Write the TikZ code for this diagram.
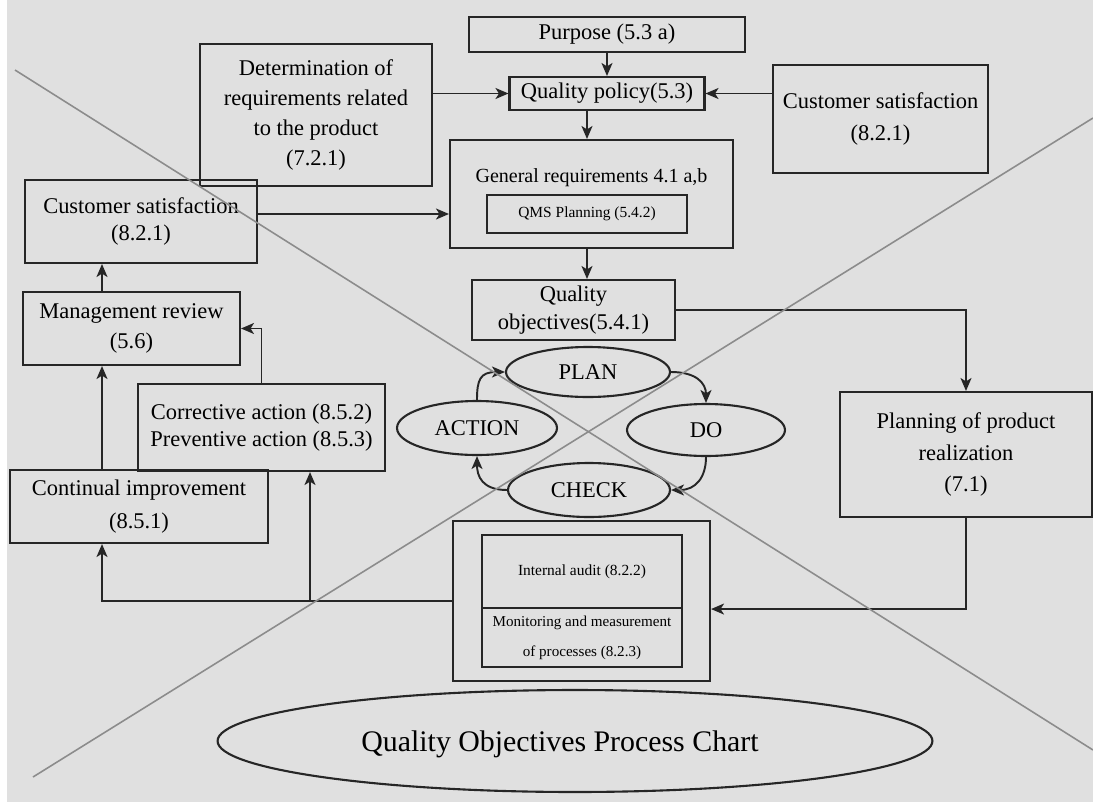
\documentclass[tikz,border=0pt]{standalone}
\usepackage{fontspec}
\setmainfont{Liberation Serif}
\usetikzlibrary{arrows.meta,shapes.geometric}

\begin{document}
\begin{tikzpicture}[x=0.02cm,y=-0.02cm,
  box/.style={draw=black!85,line width=1.2pt,inner sep=0pt,align=center,font=\fontsize{12.8}{17}\selectfont},
  oval/.style={draw=black!85,line width=1.2pt,ellipse,inner sep=0pt,font=\fontsize{12.8}{17}\selectfont},
  arr/.style={draw=black!85,line width=1.1pt,-{Stealth[length=2.6mm,width=2.2mm,inset=0.7mm]}},
  diag/.style={black!45,line width=0.9pt}]
  \useasboundingbox (0,0) rectangle (1093,802);
  \fill[black!12] (7,0) rectangle (1093,802);
  \node[box,minimum width=5.52cm,minimum height=0.7cm] (purpose) at (607,34.5) {Purpose (5.3 a)};
  \node[box,minimum width=3.9cm,minimum height=0.66cm] (policy) at (607,93.5) {Quality policy(5.3)};
  \node[box,minimum width=4.64cm,minimum height=2.84cm] (determ) at (316,115) {Determination of\\requirements related\\to the product\\(7.2.1)};
  \node[box,minimum width=4.3cm,minimum height=2.16cm,font=\fontsize{12.8}{18.5}\selectfont] (custR) at (880.5,119) {Customer satisfaction\\(8.2.1)};
  \node[box,minimum width=5.66cm,minimum height=2.16cm] (genreq) at (591.5,194) {};
  \node[font=\fontsize{11.4}{13}\selectfont] (genreqtxt) at (591.5,178) {General requirements 4.1 a,b};
  \node[box,minimum width=4cm,minimum height=0.76cm,font=\fontsize{8.8}{10}\selectfont] (qms) at (587,214) {QMS Planning (5.4.2)};
  \node[box,minimum width=4.64cm,minimum height=1.66cm,font=\fontsize{12.8}{15.3}\selectfont] (custL) at (141,221.5) {Customer satisfaction\\(8.2.1)};
  \node[box,minimum width=4.06cm,minimum height=1.2cm,font=\fontsize{12.8}{16.4}\selectfont] (objectives) at (573.5,310) {Quality\\objectives(5.4.1)};
  \node[box,minimum width=4.34cm,minimum height=1.46cm] (mgmt) at (131.5,328.5) {Management review\\(5.6)};
  \node[box,minimum width=4.94cm,minimum height=1.74cm,font=\fontsize{12.8}{15.3}\selectfont] (corrective) at (261.5,427.5) {Corrective action (8.5.2)\\Preventive action (8.5.3)};
  \node[box,minimum width=5.16cm,minimum height=1.46cm,font=\fontsize{12.8}{18.5}\selectfont] (continual) at (139,506.5) {Continual improvement\\(8.5.1)};
  \node[box,minimum width=5.04cm,minimum height=2.5cm,font=\fontsize{12.8}{18}\selectfont] (planning) at (966,454.5) {Planning of product\\realization\\(7.1)};
  \node[box,minimum width=5.14cm,minimum height=3.2cm] (monitor) at (581.5,601) {};
  \node[box,minimum width=4cm,minimum height=1.46cm,font=\fontsize{8.8}{10}\selectfont] (audit) at (582,571.5) {Internal audit (8.2.2)};
  \node[box,minimum width=4cm,minimum height=1.18cm,font=\fontsize{8.6}{17}\selectfont] (measure) at (582,637.5) {Monitoring and measurement\\of processes (8.2.3)};
  \node[oval,minimum width=3.28cm,minimum height=1cm] (plan) at (588,372) {PLAN};
  \node[oval,minimum width=3.2cm,minimum height=1.08cm] (action) at (477,428) {ACTION};
  \node[oval,minimum width=3.16cm,minimum height=1.04cm] (do) at (706,430) {DO};
  \node[oval,minimum width=3.24cm,minimum height=1.08cm] (check) at (589,490) {CHECK};
  \node[oval,minimum width=14.3cm,minimum height=2.04cm] (title) at (575,741) {};
  \node[font=\fontsize{17}{20}\selectfont] (titletxt) at (560,744) {Quality Objectives Process Chart};
  \coordinate (leftx) at (102,0);
  \coordinate (corrx) at (310,0);
  \draw[arr] (purpose) -- (policy);
  \draw[arr] (determ.east |- policy) -- (policy);
  \draw[arr] (custR.west |- policy) -- (policy);
  \draw[arr] (policy.south -| qms) -- (genreq.north -| qms);
  \draw[arr] (custL.east |- qms) -- (genreq.west |- qms);
  \draw[arr] (genreq.south -| qms) -- (objectives.north -| qms);
  \draw[arr] (objectives.east) -| (planning.north);
  \draw[arr] (planning.south) |- (monitor.east |- audit.south);
  \draw[arr] (monitor.west) -| (continual.south -| leftx);
  \draw[arr] (monitor.west -| corrx) -- (corrective.south -| corrx);
  \draw[arr] (continual.north -| leftx) -- (mgmt.south -| leftx);
  \draw[arr] (mgmt.north -| leftx) -- (custL.south -| leftx);
  \draw[arr] (corrective.north) |- (mgmt.east);
  \draw[arr] (plan.east) .. controls +(25,0) and +(0,-20) .. (do.north);
  \draw[arr] (do.south) .. controls +(0,20) and +(25,0) .. (check.east);
  \draw[arr] (check.west) .. controls +(-25,0) and +(0,20) .. (action.south);
  \draw[arr] (action.north) .. controls +(0,-20) and +(-25,0) .. (plan.west);
  \draw[diag] (15,70) -- (1093,750);
  \draw[diag] (33,777) -- (1093,118);
\end{tikzpicture}
\end{document}
